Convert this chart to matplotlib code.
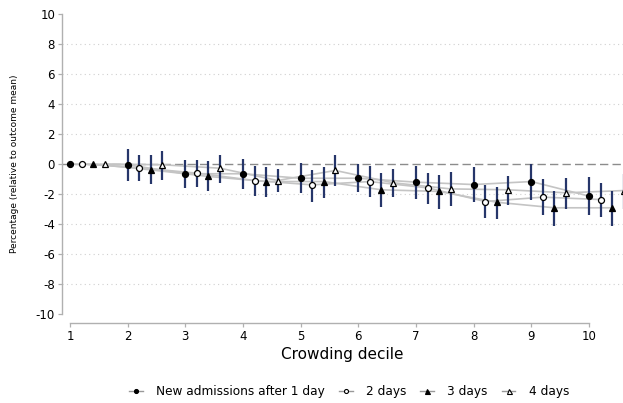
import matplotlib
matplotlib.use("Agg")
import matplotlib.pyplot as plt
from matplotlib.lines import Line2D
import numpy as np

# --- data (percent, relative to outcome mean) ---
deciles = np.arange(1, 11)
series_labels = ["New admissions after 1 day", "2 days", "3 days", "4 days"]

est_1day = [0, -0.05, -0.65, -0.65, -0.95, -0.95, -1.21, -1.37, -1.17, -2.14]
lo_1day = [0, -1.10, -1.59, -1.65, -1.95, -1.88, -2.32, -2.55, -2.39, -3.39]
hi_1day = [0, 1.00, 0.30, 0.35, 0.05, 0.01, -0.10, -0.20, -0.03, -0.88]

est_2days = [0, -0.25, -0.61, -1.10, -1.39, -1.17, -1.59, -2.50, -2.21, -2.37]
lo_2days = [0, -1.15, -1.55, -2.10, -2.50, -2.21, -2.65, -3.60, -3.43, -3.55]
hi_2days = [0, 0.57, 0.28, -0.10, -0.39, -0.10, -0.59, -1.39, -0.99, -1.25]

est_3days = [0, -0.39, -0.83, -1.17, -1.17, -1.72, -1.83, -2.55, -2.92, -2.92]
lo_3days = [0, -1.32, -1.83, -2.21, -2.25, -2.88, -2.99, -3.65, -4.10, -4.10]
hi_3days = [0, 0.57, 0.17, -0.21, -0.17, -0.61, -0.72, -1.55, -1.77, -1.77]

est_4days = [0, -0.05, -0.28, -1.10, -0.43, -1.25, -1.66, -1.72, -1.92, -1.77]
lo_4days = [0, -1.05, -1.25, -1.88, -1.48, -2.21, -2.77, -2.72, -2.99, -3.00]
hi_4days = [0, 0.90, 0.61, -0.32, 0.57, -0.32, -0.55, -0.77, -0.92, -0.65]

yticks = [-10, -8, -6, -4, -2, 0, 2, 4, 6, 8, 10]

# --- style ---
line_grey = "#c4c4c4"
ci_color = "#26366a"
axis_grey = "#b0b0b0"
markers = [("o", "black", 4.3), ("o", "white", 4.3), ("^", "black", 5.0), ("^", "white", 5.0)]
offsets = [0.0, 0.2, 0.4, 0.6]

fig = plt.figure(figsize=(6.23, 4.03), dpi=100)
ax = fig.add_axes([62 / 623, 1 - 314 / 403, 561 / 623, 300 / 403])

# gridlines + zero line
for yv in yticks[1:-1]:
    if yv == 0:
        continue
    ax.axhline(yv, color="#d0d0d0", lw=0.8, ls=(0, (1, 3)), zorder=0)
ax.axhline(0, color="#8c8c8c", lw=1.0, ls=(0, (6, 3)), zorder=0)

all_est = [est_1day, est_2days, est_3days, est_4days]
all_lo = [lo_1day, lo_2days, lo_3days, lo_4days]
all_hi = [hi_1day, hi_2days, hi_3days, hi_4days]

handles = []
for k in range(4):
    x = deciles + offsets[k]
    mk, face, ms = markers[k]
    ax.plot(x, all_est[k], color=line_grey, lw=1.2, zorder=1, clip_on=False)
    ax.vlines(x[1:], all_lo[k][1:], all_hi[k][1:], color=ci_color, lw=1.6, zorder=2)
    ax.plot(x, all_est[k], ls="none", marker=mk, ms=ms, mfc=face, mec="black",
            mew=0.9, zorder=3, clip_on=False)
    handles.append(Line2D([], [], color="#999999", lw=1.0, marker=mk, ms=ms - 1.4,
                          mfc=face, mec="black", mew=0.8))

ax.set_xlim(1 - 8 / 57.67, 1 + 553 / 57.67)
ax.set_ylim(-10, 10)

for s in ["top", "right"]:
    ax.spines[s].set_visible(False)
ax.spines["left"].set_color(axis_grey)
ax.spines["left"].set_linewidth(1.0)
ax.spines["bottom"].set_color(axis_grey)
ax.spines["bottom"].set_linewidth(1.0)
ax.spines["bottom"].set_position(("outward", 6.5))
ax.spines["bottom"].set_bounds(1, 10)

ax.set_yticks(yticks)
ax.set_yticklabels([str(v) for v in yticks])
ax.set_xticks(deciles)
ax.tick_params(axis="both", colors=axis_grey, labelcolor="black", labelsize=8.5,
               length=3, width=0.9)
ax.tick_params(axis="y", pad=2)
ax.tick_params(axis="x", pad=2)

ax.set_ylabel("Percentage (relative to outcome mean)", fontsize=6.5, labelpad=12)
ax.set_xlabel("Crowding decile", fontsize=11, labelpad=3)

fig.legend(handles, series_labels, loc="center", ncol=4,
           bbox_to_anchor=(349 / 623, 1 - 392 / 403), frameon=False,
           fontsize=8.7, handlelength=1.15, handletextpad=1.1, columnspacing=1.15)

fig.savefig("out.png", dpi=100)
